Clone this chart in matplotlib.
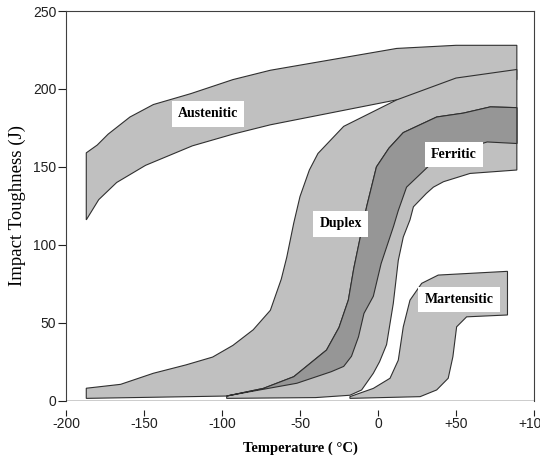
import numpy as np
import matplotlib
matplotlib.use('Agg')
import matplotlib.pyplot as plt
from matplotlib.patches import Polygon

# bande di tenacita' per le famiglie di acciai inox
aus_up_x = [-187, -180, -173, -159, -144, -120, -93, -69, 12, 50, 89]
aus_up_y = [159, 164, 171, 182, 190, 197, 206, 212, 226, 228, 228]
aus_lo_x = [-187, -179, -167.5, -149, -119, -93, -69, 12, 89]
aus_lo_y = [116, 129, 140, 151, 163.5, 171, 177, 193, 206]

dup_up_x = [-187, -165, -144, -123, -106, -93, -80, -69, -62, -58.5, -54, -50, -44, -38.5, -22, 12, 50, 89]
dup_up_y = [8, 10.5, 17.6, 23, 28, 35.5, 45.5, 58, 78, 92, 114, 131, 148, 158.6, 176, 193, 207, 212.5]
dup_lo_x = [-187, -97, -82, -52, -30, -22, -17, -12.5, -9, -3, 2, 6, 10, 13, 18.3, 33, 50, 70, 89]
dup_lo_y = [1.5, 3, 5.8, 11.2, 18.6, 22, 28.5, 41, 56, 67, 88, 100, 112, 122, 137, 151, 160, 166, 165]

fer_up_x = [-97, -73.5, -54, -33, -25, -19, -15.5, -7.3, -1, 7, 16.2, 37.6, 54.7, 72, 89]
fer_up_y = [3, 7.9, 15.4, 32.5, 47, 64.6, 85, 124.4, 150, 162, 172, 182, 184.5, 188.5, 188]
fer_lo_x = [-97, -40, -18, -10.5, -3, 1, 5.5, 9.8, 13, 16.2, 20.5, 22.7, 31, 35.5, 42, 59, 89]
fer_lo_y = [1.5, 2, 3.5, 6.9, 17.6, 25, 36, 62.4, 90, 105, 116, 124.4, 133, 137, 140.5, 145.8, 148]

mar_up_x = [-18, -3, 7.7, 13, 16.2, 20.5, 28, 38.6, 83]
mar_up_y = [2.6, 7.9, 14.4, 26, 47.4, 64.5, 75.3, 80.6, 83]
mar_lo_x = [-18, 27, 37.6, 45, 48, 50.4, 56.8, 83]
mar_lo_y = [1.5, 2.6, 6.9, 14.4, 28.2, 47.4, 53.8, 55]

etichette = ['Austenitic', 'Duplex', 'Ferritic', 'Martensitic']
etich_x = [-109, -24, 48.6, 52]
etich_y = [184, 113.5, 158, 65]

x_ticks = [-200, -150, -100, -50, 0, 50, 100]
x_tick_lab = ['-200', '-150', '-100', '-50', '0', '+50', '+100']
y_ticks = [0, 50, 100, 150, 200, 250]

chiaro = '#c0c0c0'
scuro = '#969696'
bordo = '#303030'


def banda(x_up, y_up, x_lo, y_lo):
	# poligono chiuso: bordo superiore e poi inferiore al contrario
	return np.column_stack([list(x_up) + list(x_lo)[::-1], list(y_up) + list(y_lo)[::-1]])


fig = plt.figure(figsize=(5.4, 4.59), dpi=100)
ax = fig.add_axes([0.1222, 0.127, 0.8667, 0.849])

for xu, yu, xl, yl in [(aus_up_x, aus_up_y, aus_lo_x, aus_lo_y),
                       (dup_up_x, dup_up_y, dup_lo_x, dup_lo_y),
                       (fer_up_x, fer_up_y, fer_lo_x, fer_lo_y)]:
	ax.add_patch(Polygon(banda(xu, yu, xl, yl), closed=True, facecolor=chiaro, edgecolor=bordo, linewidth=0.8))

# zona di sovrapposizione duplex / ferritic
dx = [x for x in dup_lo_x if x >= fer_up_x[0]]
dy = [y for x, y in zip(dup_lo_x, dup_lo_y) if x >= fer_up_x[0]]
ax.add_patch(Polygon(banda(fer_up_x, fer_up_y, dx, dy), closed=True, facecolor=scuro, edgecolor=bordo, linewidth=0.8))

ax.add_patch(Polygon(banda(mar_up_x, mar_up_y, mar_lo_x, mar_lo_y), closed=True, facecolor=chiaro, edgecolor=bordo, linewidth=0.8))

for t, x, y in zip(etichette, etich_x, etich_y):
	ax.text(x, y, t, ha='center', va='center', fontsize=10, fontweight='bold', family='Liberation Serif',
	        bbox=dict(facecolor='white', edgecolor='none', boxstyle='square,pad=0.45'))

ax.axhline(0, color='black', linewidth=1, zorder=5)
ax.set_xlim(-200, 100)
ax.set_ylim(0, 250)

ax.spines['bottom'].set_position(('outward', 6.5))
ax.spines['bottom'].set_visible(False)
for s in ['left', 'top', 'right']:
	ax.spines[s].set_linewidth(0.8)
	ax.spines[s].set_color('#404040')

ax.set_xticks(x_ticks)
ax.set_xticklabels(x_tick_lab)
ax.set_yticks(y_ticks)
ax.tick_params(axis='x', length=4.5, width=0.8, pad=0.5, labelsize=10, colors='#202020')
ax.tick_params(axis='y', length=6, width=0.8, pad=1, labelsize=10, colors='#202020')
for lab in ax.get_xticklabels() + ax.get_yticklabels():
	lab.set_family('Liberation Sans')

ax.set_ylabel('Impact Toughness (J)', fontsize=13.5, family='Liberation Serif', labelpad=5)
ax.set_xlabel('Temperature ( °C)', fontsize=10.5, fontweight='bold', family='Liberation Serif', labelpad=8)

fig.savefig('out.png', dpi=100)
